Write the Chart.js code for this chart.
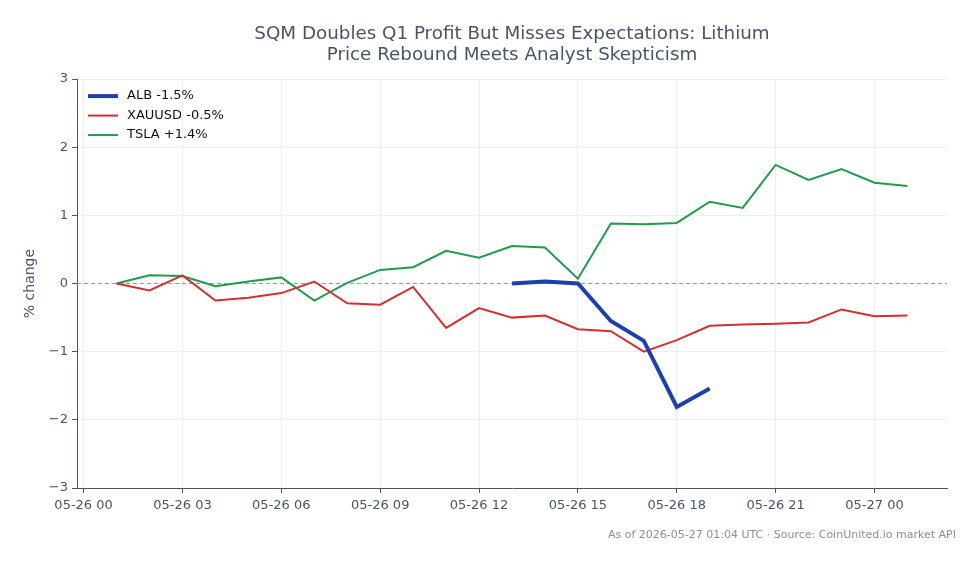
<!DOCTYPE html>
<html>
<head>
<meta charset="utf-8">
<script src="https://cdn.jsdelivr.net/npm/chart.js@4/dist/chart.umd.min.js"></script>
<style>
  html, body { margin: 0; padding: 0; background: #fff; }
  #wrap { width: 979px; height: 564px; }
</style>
</head>
<body>
<div id="wrap"><canvas id="myChart" width="979" height="564"></canvas></div>
<script>
// hours since 05-26 00:00 UTC
var hours = [1, 2, 3, 4, 5, 6, 7, 8, 9, 10, 11, 12, 13, 14, 15, 16, 17, 18, 19, 20, 21, 22, 23, 24, 25];

var tsla = [0.00, 0.12, 0.11, -0.04, 0.03, 0.09, -0.25, 0.01, 0.20, 0.24, 0.48, 0.38, 0.55,
            0.53, 0.07, 0.88, 0.87, 0.89, 1.20, 1.11, 1.74, 1.52, 1.68, 1.48, 1.43];
var xauusd = [0.00, -0.10, 0.12, -0.25, -0.21, -0.14, 0.03, -0.29, -0.31, -0.05, -0.65, -0.36, -0.50,
              -0.47, -0.67, -0.70, -1.00, -0.83, -0.62, -0.60, -0.59, -0.57, -0.38, -0.48, -0.47];
// ALB only trades from 13:00
var albHours = [13, 14, 15, 16, 17, 18, 19];
var alb = [0.00, 0.03, 0.00, -0.55, -0.84, -1.81, -1.54];

var tickHours = [0, 3, 6, 9, 12, 15, 18, 21, 24];
var tickLabels = ['05-26 00', '05-26 03', '05-26 06', '05-26 09', '05-26 12', '05-26 15', '05-26 18', '05-26 21', '05-27 00'];
var yTicks = [-3, -2, -1, 0, 1, 2, 3];

function toPoints(xs, ys) {
    var pts = [];
    for (var i = 0; i < xs.length; i++) {
        pts.push({x: xs[i], y: ys[i]});
    }
    return pts;
}

var font = "'DejaVu Sans', sans-serif";
var slate = '#475569';

// dashed reference line at 0
var zeroLine = {
    id: 'zeroLine',
    beforeDatasetsDraw: function(chart) {
        var ctx = chart.ctx, area = chart.chartArea;
        var y = chart.scales.y.getPixelForValue(0);
        ctx.save();
        ctx.strokeStyle = '#8d9bb3';
        ctx.lineWidth = 1;
        ctx.setLineDash([4, 3]);
        ctx.beginPath();
        ctx.moveTo(area.left, y);
        ctx.lineTo(area.right, y);
        ctx.stroke();
        ctx.restore();
    }
};

// legend drawn inside the plot, top left
var innerLegend = {
    id: 'innerLegend',
    afterDatasetsDraw: function(chart) {
        var ctx = chart.ctx, area = chart.chartArea;
        var x = area.left + 11, y = area.top + 17;
        ctx.save();
        ctx.font = '13px ' + font;
        ctx.textBaseline = 'middle';
        chart.data.datasets.forEach(function(ds, i) {
            var yy = y + i * 19.5;
            ctx.strokeStyle = ds.borderColor;
            ctx.lineWidth = ds.borderWidth;
            ctx.beginPath();
            ctx.moveTo(x, yy);
            ctx.lineTo(x + 30, yy);
            ctx.stroke();
            ctx.fillStyle = '#111';
            ctx.fillText(ds.label, x + 39, yy);
        });
        ctx.restore();
    }
};

var footer = {
    id: 'footer',
    afterDraw: function(chart) {
        var ctx = chart.ctx;
        ctx.save();
        ctx.font = '11px ' + font;
        ctx.fillStyle = '#8a8f98';
        ctx.textAlign = 'right';
        ctx.textBaseline = 'middle';
        ctx.fillText('As of 2026-05-27 01:04 UTC \u00b7 Source: CoinUnited.io market API', 956, 535);
        ctx.restore();
    }
};

var ctx = document.getElementById('myChart');
var myChart = new Chart(ctx, {
    type: 'line',
    data: {
        datasets: [{
            label: 'ALB -1.5%',
            data: toPoints(albHours, alb),
            borderColor: '#1e40af',
            backgroundColor: '#1e40af',
            borderWidth: 4
        }, {
            label: 'XAUUSD -0.5%',
            data: toPoints(hours, xauusd),
            borderColor: '#d32f2f',
            backgroundColor: '#d32f2f',
            borderWidth: 2
        }, {
            label: 'TSLA +1.4%',
            data: toPoints(hours, tsla),
            borderColor: '#1f9d4c',
            backgroundColor: '#1f9d4c',
            borderWidth: 2
        }]
    },
    plugins: [zeroLine, innerLegend, footer],
    options: {
        responsive: false,
        animation: false,
        layout: { padding: { left: 0, right: 32, top: 0, bottom: 0 } },
        elements: {
            point: { radius: 0, hoverRadius: 0 },
            line: { tension: 0 }
        },
        plugins: {
            title: {
                display: true,
                fullSize: false,
                text: ['SQM Doubles Q1 Profit But Misses Expectations: Lithium', 'Price Rebound Meets Analyst Skepticism'],
                color: slate,
                font: { family: font, size: 18.3, weight: 'normal', lineHeight: 1.15 },
                padding: { top: 24, bottom: 13 }
            },
            legend: { display: false },
            tooltip: { enabled: false }
        },
        scales: {
            x: {
                type: 'linear',
                min: -0.2,
                max: 26.2,
                afterBuildTicks: function(scale) {
                    scale.ticks = tickHours.map(function(v) { return {value: v}; });
                },
                afterFit: function(scale) { scale.height = 76; },
                ticks: {
                    color: slate,
                    font: { family: font, size: 13 },
                    padding: 5,
                    maxRotation: 0,
                    callback: function(v) {
                        var i = tickHours.indexOf(v);
                        return i >= 0 ? tickLabels[i] : '';
                    }
                },
                grid: { color: '#eceef1', tickColor: slate, tickLength: 5 },
                border: { color: slate, width: 1 }
            },
            y: {
                min: -3,
                max: 3,
                afterBuildTicks: function(scale) {
                    scale.ticks = yTicks.map(function(v) { return {value: v}; });
                },
                afterFit: function(scale) { scale.width = 77; },
                title: {
                    display: true,
                    text: '% change',
                    color: slate,
                    font: { family: font, size: 14 },
                    padding: { top: 22, bottom: 0 }
                },
                ticks: {
                    color: slate,
                    font: { family: font, size: 13 },
                    padding: 4,
                    callback: function(v) {
                        return v < 0 ? '\u2212' + Math.abs(v) : String(v);
                    }
                },
                grid: { color: '#eceef1', tickColor: slate, tickLength: 5 },
                border: { color: slate, width: 1 }
            }
        }
    }
});
</script>
</body>
</html>
